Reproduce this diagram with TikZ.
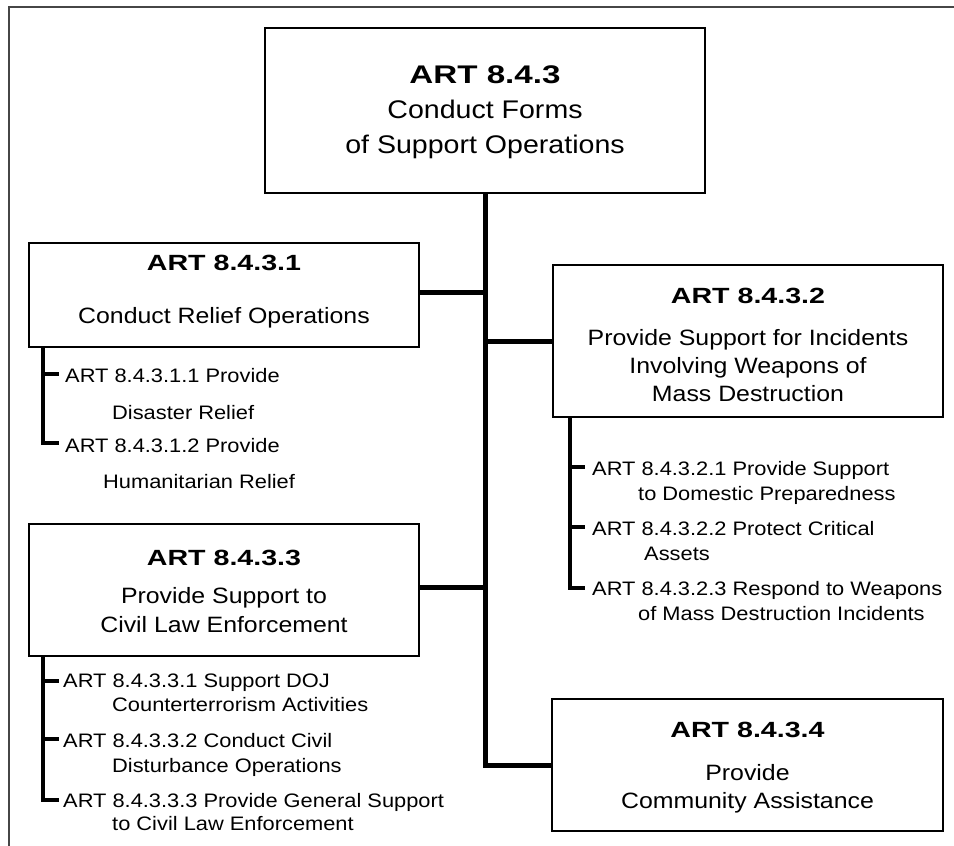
\documentclass[tikz,border=0pt]{standalone}
\usepackage{fontspec}
\setmainfont{Liberation Sans}[FakeStretch=1.12]
\newfontfamily\bfam{Liberation Sans}[FakeStretch=1.3]
\begin{document}
\begin{tikzpicture}[x=1pt,y=-1pt,
  box/.style={draw, line width=2.5, inner sep=0, outer sep=0, fill=white},
  ttl/.style={anchor=base, inner sep=0, font=\bfam\bfseries\fontsize{22}{26}\selectfont},
  bigttl/.style={anchor=base, inner sep=0, font=\bfam\bfseries\fontsize{25.5}{30}\selectfont},
  btxt/.style={anchor=base, inner sep=0, font=\fontsize{22.2}{26}\selectfont},
  bigtxt/.style={anchor=base, inner sep=0, font=\fontsize{25.5}{30}\selectfont},
  stxt/.style={anchor=base west, inner sep=0, font=\fontsize{19.5}{23}\selectfont},
  trunkline/.style={line width=5, line join=miter},
  subline/.style={line width=4, line join=miter},
  framecol/.style={draw={rgb,255:red,70;green,70;blue,70}, line width=2}
]
\useasboundingbox (0,0) rectangle (954,846);
% partial frame
\coordinate (fr1) at (9,846);
\coordinate (fr2) at (9,7);
\coordinate (fr3) at (954,7);
\draw[framecol, line join=miter] (fr1) -- (fr2) -- (fr3);

% boxes
\node[box, minimum width=440, minimum height=165] (top) at (485,110.5) {};
\node[box, minimum width=390, minimum height=104] (b1) at (224,295) {};
\node[box, minimum width=390, minimum height=152] (b2) at (748,341) {};
\node[box, minimum width=390, minimum height=132] (b3) at (224,590) {};
\node[box, minimum width=391, minimum height=132] (b4) at (747.5,765) {};

% trunk and connectors
\coordinate (j1) at (485,292);
\coordinate (j3) at (485,587);
\draw[trunkline] (top.south) -- (top.south |- b4.west) -- (b4.west);
\draw[trunkline] (b1.east |- j1) -- (j1);
\draw[trunkline] (top.south |- b2.west) -- (b2.west);
\draw[trunkline] (b3.east |- j3) -- (j3);

% top box text
\node[bigttl] (t0a) at (485,83) {ART 8.4.3};
\node[bigtxt] (t0b) at (485,118) {Conduct Forms};
\node[bigtxt] (t0c) at (485,153) {of Support Operations};

% box 1 text
\node[ttl] (t1a) at (224,270) {ART 8.4.3.1};
\node[btxt] (t1b) at (224,323) {Conduct Relief Operations};

% box 2 text
\node[ttl] (t2a) at (748,303) {ART 8.4.3.2};
\node[btxt] (t2b) at (748,345) {Provide Support for Incidents};
\node[btxt] (t2c) at (748,373) {Involving Weapons of};
\node[btxt] (t2d) at (748,401) {Mass Destruction};

% box 3 text
\node[ttl] (t3a) at (224,565) {ART 8.4.3.3};
\node[btxt] (t3b) at (224,603) {Provide Support to};
\node[btxt] (t3c) at (224,632) {Civil Law Enforcement};

% box 4 text
\node[ttl] (t4a) at (747.5,737) {ART 8.4.3.4};
\node[btxt] (t4b) at (747.5,780) {Provide};
\node[btxt] (t4c) at (747.5,808) {Community Assistance};

% box 1 sub items
\coordinate (k11) at (43,374);
\coordinate (k12) at (43,443);
\draw[subline] (b1.south -| k11) -- (k12) -- ++(16,0);
\draw[subline] (k11) -- ++(16,0);
\node[stxt] (s11a) at (65,382) {ART 8.4.3.1.1 Provide};
\node[stxt] (s11b) at (112,419) {Disaster Relief};
\node[stxt] (s12a) at (65,452) {ART 8.4.3.1.2 Provide};
\node[stxt] (s12b) at (103,488) {Humanitarian Relief};

% box 2 sub items
\coordinate (k21) at (570,467);
\coordinate (k22) at (570,527);
\coordinate (k23) at (570,588);
\draw[subline] (b2.south -| k21) -- (k23) -- ++(15,0);
\draw[subline] (k21) -- ++(15,0);
\draw[subline] (k22) -- ++(15,0);
\node[stxt] (s21a) at (592,475) {ART 8.4.3.2.1 Provide Support};
\node[stxt] (s21b) at (638,500) {to Domestic Preparedness};
\node[stxt] (s22a) at (592,535) {ART 8.4.3.2.2 Protect Critical};
\node[stxt] (s22b) at (644,560) {Assets};
\node[stxt] (s23a) at (592,595) {ART 8.4.3.2.3 Respond to Weapons};
\node[stxt] (s23b) at (638,620) {of Mass Destruction Incidents};

% box 3 sub items
\coordinate (k31) at (43,681);
\coordinate (k32) at (43,739);
\coordinate (k33) at (43,800);
\draw[subline] (b3.south -| k31) -- (k33) -- ++(16,0);
\draw[subline] (k31) -- ++(16,0);
\draw[subline] (k32) -- ++(16,0);
\node[stxt] (s31a) at (63,687) {ART 8.4.3.3.1 Support DOJ};
\node[stxt] (s31b) at (112,711) {Counterterrorism Activities};
\node[stxt] (s32a) at (63,747) {ART 8.4.3.3.2 Conduct Civil};
\node[stxt] (s32b) at (112,772) {Disturbance Operations};
\node[stxt] (s33a) at (63,807) {ART 8.4.3.3.3 Provide General Support};
\node[stxt] (s33b) at (112,830) {to Civil Law Enforcement};
\end{tikzpicture}
\end{document}
